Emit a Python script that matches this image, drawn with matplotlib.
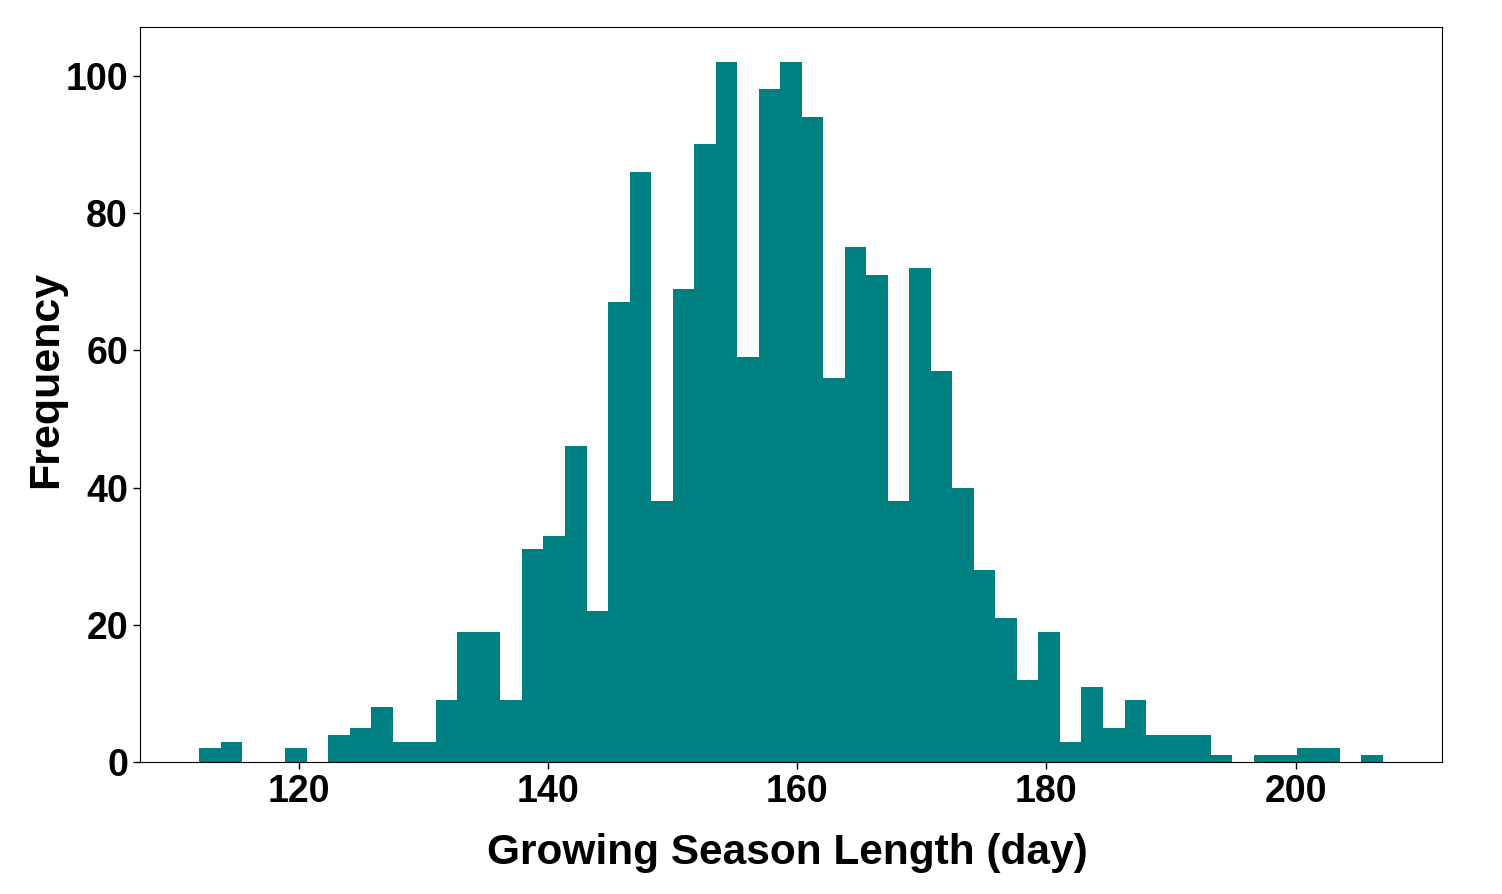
import numpy as np
import matplotlib
matplotlib.use("Agg")
import matplotlib.pyplot as plt

# histogram of growing season length: 55 bins between min and max
season_min = 112.0
season_max = 207.0
counts = [2, 3, 0, 0, 2, 0, 4, 5, 8, 3,
          3, 9, 19, 19, 9, 31, 33, 46, 22, 67,
          86, 38, 69, 90, 102, 59, 98, 102, 94, 56,
          75, 71, 38, 72, 57, 40, 28, 21, 12, 19,
          3, 11, 5, 9, 4, 4, 4, 1, 0, 1,
          1, 2, 2, 0, 1]
x_ticks = [120, 140, 160, 180, 200]
y_ticks = [0, 20, 40, 60, 80, 100]

edges = np.linspace(season_min, season_max, len(counts) + 1)

fig = plt.figure(figsize=(15.02, 8.94), dpi=100)
ax = fig.add_axes([0.0932, 0.1475, 0.8668, 0.8223])

ax.hist(edges[:-1], bins=edges, weights=counts, color="#008080")

ax.set_xticks(x_ticks)
ax.set_yticks(y_ticks)
tick_font = ["Liberation Sans", "DejaVu Sans"]
for lab in ax.get_xticklabels() + ax.get_yticklabels():
    lab.set_family(tick_font)
    lab.set_fontweight("bold")
    lab.set_fontsize(27)
ax.tick_params(length=4.7, width=1)
ax.tick_params(axis="x", pad=4)
ax.tick_params(axis="y", pad=4)

label_font = ["Liberation Sans Narrow", "Liberation Sans", "DejaVu Sans"]
ax.set_xlabel("Growing Season Length (day)", family=label_font,
              fontweight="bold", fontsize=30.5)
ax.set_ylabel("Frequency", family=label_font,
              fontweight="bold", fontsize=31)
ax.xaxis.set_label_coords(0.497, -0.096)
ax.yaxis.set_label_coords(-0.057, 0.52)

fig.savefig("out.png", dpi=100)
